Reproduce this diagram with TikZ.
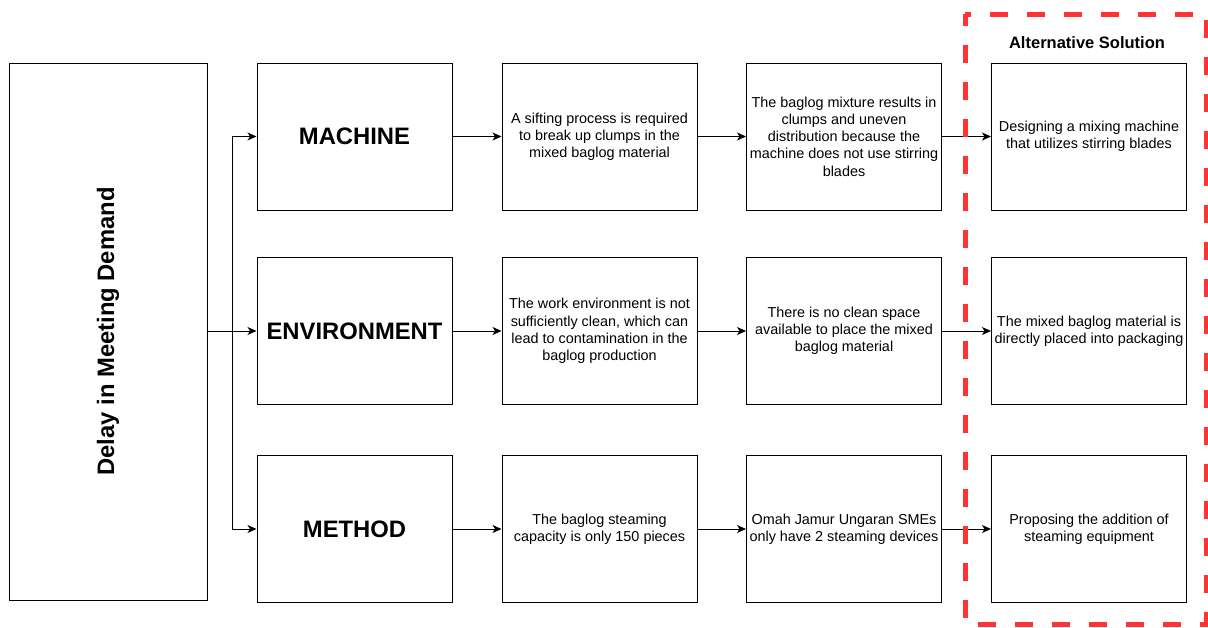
\documentclass[tikz,border=0pt]{standalone}
\usepackage{fontspec}
\setmainfont{Liberation Sans}
\usetikzlibrary{arrows.meta}
\definecolor{altred}{HTML}{FF3333}

\begin{document}
\begin{tikzpicture}[x=1pt, y=-1pt,
  box/.style={draw, line width=1pt, minimum width=195pt, minimum height=147pt, inner sep=0.5pt, align=center, font=\fontsize{14.4}{17.2}\selectfont},
  cause/.style={box, font=\bfseries\fontsize{23.8}{28}\selectfont},
  link/.style={-{Stealth[length=9pt,width=8pt,inset=2.5pt]}, line width=1pt}]

\useasboundingbox (0,0) rectangle (1208,627);

% Draw the problem box on the left
\node [draw, line width=1pt, minimum width=198pt, minimum height=537pt, font=\bfseries\fontsize{23.8}{28}\selectfont] (delay) at (108,331.5) {\rotatebox{90}{Delay in Meeting Demand}};

% Draw the three causes
\node [cause] (machine) at (354.5,136.5) {MACHINE};
\node [cause] (environment) at (354.5,331) {ENVIRONMENT};
\node [cause] (method) at (354.5,529) {METHOD};

% Row 1: machine
\node [box] (sifting) at (599.5,136.5) {A sifting process is required\\to break up clumps in the\\mixed baglog material};
\node [box] (clumps) at (844,136.5) {The baglog mixture results in\\clumps and uneven\\distribution because the\\machine does not use stirring\\blades};
\node [box] (blades) at (1089,136.5) {Designing a mixing machine\\that utilizes stirring blades};

% Row 2: environment
\node [box] (clean) at (599.5,331) {The work environment is not\\sufficiently clean, which can\\lead to contamination in the\\baglog production};
\node [box] (space) at (844,331) {There is no clean space\\available to place the mixed\\baglog material};
\node [box] (packaging) at (1089,331) {The mixed baglog material is\\directly placed into packaging};

% Row 3: method
\node [box] (capacity) at (599.5,529) {The baglog steaming\\capacity is only 150 pieces};
\node [box] (devices) at (844,529) {Omah Jamur Ungaran SMEs\\only have 2 steaming devices};
\node [box] (equipment) at (1089,529) {Proposing the addition of\\steaming equipment};

% Draw the branches from the problem box
\coordinate (split) at (232,331);
\draw [link] (delay.east |- environment) -- (environment);
\draw [link] (split) |- (machine.west);
\draw [link] (split) |- (method.west);

% Draw the arrows along each row
\draw [link] (machine) -- (sifting);
\draw [link] (sifting) -- (clumps);
\draw [link] (clumps) -- (blades);
\draw [link] (environment) -- (clean);
\draw [link] (clean) -- (space);
\draw [link] (space) -- (packaging);
\draw [link] (method) -- (capacity);
\draw [link] (capacity) -- (devices);
\draw [link] (devices) -- (equipment);

% Dashed frame round the solutions
\draw [altred, line width=5pt, dash pattern=on 18pt off 19pt, dash phase=6pt] (965,14) rectangle (1206,624);
\node [font=\bfseries\fontsize{16.5}{20}\selectfont] (alttitle) at (1087,43) {Alternative Solution};

\end{tikzpicture}
\end{document}
